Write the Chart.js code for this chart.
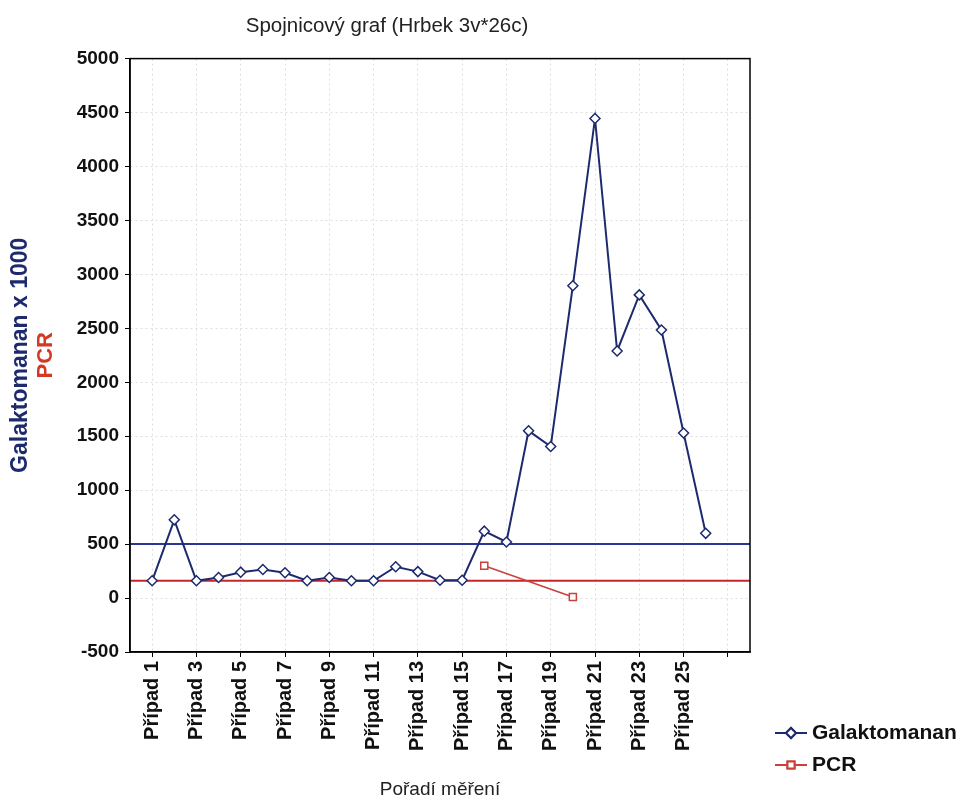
<!DOCTYPE html>
<html>
<head>
<meta charset="utf-8">
<script src="https://cdn.jsdelivr.net/npm/chart.js@4"></script>
<style>
  html, body { margin: 0; background: #fff; }
  #wrap { width: 969px; height: 805px; }
</style>
</head>
<body>
<div id="wrap"><canvas id="myChart"></canvas></div>
<script>
// values
const chartTitle = "Spojnicový graf (Hrbek 3v*26c)";
const xTitle = "Pořadí měření";
const cases = [
    "Případ 1", "Případ 2", "Případ 3", "Případ 4", "Případ 5", "Případ 6", "Případ 7",
    "Případ 8", "Případ 9", "Případ 10", "Případ 11", "Případ 12", "Případ 13", "Případ 14",
    "Případ 15", "Případ 16", "Případ 17", "Případ 18", "Případ 19", "Případ 20", "Případ 21",
    "Případ 22", "Případ 23", "Případ 24", "Případ 25", "Případ 26",
];
const galaktomanan = [
    160, 725, 160, 190, 240, 265, 235, 160, 190, 160, 160, 290, 245,
    165, 165, 620, 520, 1550, 1405, 2895, 4445, 2290, 2810, 2485, 1530, 600,
];
const pcr = [
    null, null, null, null, null, null, null, null, null, null, null, null, null,
    null, null, 300, null, null, null, 10, null, null, null, null, null, null,
];
const galaktomananLimit = 500;
const pcrLimit = 160;
const yMin = -500;
const yMax = 5000;
const yStep = 500;

const navy = "#1d2a6e";
const red = "#c8413a";
const font = "'Liberation Sans', Arial, sans-serif";

// Statistica leaves one empty slot before case 1 and two after the last one
const labels = ["", ...cases, "", ""];
const pad = (arr) => [null, ...arr, null, null];

const frame = {
    id: "frame",
    afterDraw(chart) {
        const { ctx, chartArea: a } = chart;
        ctx.save();
        ctx.strokeStyle = "#000";
        ctx.lineWidth = 1.5;
        ctx.strokeRect(a.left, a.top, a.right - a.left, a.bottom - a.top);
        ctx.restore();
    },
};

const limitLines = {
    id: "limitLines",
    beforeDatasetsDraw(chart) {
        const { ctx, chartArea: a, scales } = chart;
        ctx.save();
        ctx.lineWidth = 2;
        for (const [v, c] of [[galaktomananLimit, "#2b3790"], [pcrLimit, "#c4262a"]]) {
            const y = scales.y.getPixelForValue(v);
            ctx.strokeStyle = c;
            ctx.beginPath();
            ctx.moveTo(a.left, y);
            ctx.lineTo(a.right, y);
            ctx.stroke();
        }
        ctx.restore();
    },
};

const yTitles = {
    id: "yTitles",
    afterDraw(chart) {
        const { ctx, chartArea: a } = chart;
        const cy = (a.top + a.bottom) / 2;
        ctx.save();
        ctx.textAlign = "center";
        ctx.textBaseline = "middle";
        ctx.font = `bold 23px ${font}`;
        ctx.translate(21, cy);
        ctx.rotate(-Math.PI / 2);
        ctx.fillStyle = navy;
        ctx.fillText("Galaktomanan x 1000", 0, 0);
        ctx.font = `bold 22px ${font}`;
        ctx.fillStyle = "#d23a26";
        ctx.fillText("PCR", 0, 25);
        ctx.restore();
    },
};

const sideLegend = {
    id: "sideLegend",
    afterDraw(chart) {
        const { ctx } = chart;
        const items = [
            { text: "Galaktomanan", color: navy, style: "rectRot", y: 733 },
            { text: "PCR", color: red, style: "rect", y: 765 },
        ];
        ctx.save();
        for (const it of items) {
            ctx.strokeStyle = it.color;
            ctx.lineWidth = 2;
            ctx.beginPath();
            ctx.moveTo(775, it.y);
            ctx.lineTo(807, it.y);
            ctx.stroke();
            ctx.fillStyle = "#fff";
            Chart.helpers.drawPoint(ctx, { pointStyle: it.style, radius: 5, borderWidth: 1.5 }, 791, it.y);
            ctx.fill();
            ctx.stroke();
            ctx.fillStyle = "#111";
            ctx.font = `bold 21px ${font}`;
            ctx.textBaseline = "middle";
            ctx.fillText(it.text, 812, it.y);
        }
        ctx.restore();
    },
};

new Chart("myChart", {
    type: "line",
    data: {
        labels: labels,
        datasets: [
            {
                label: "Galaktomanan",
                data: pad(galaktomanan),
                borderColor: navy,
                backgroundColor: "#fff",
                borderWidth: 2,
                pointStyle: "rectRot",
                pointRadius: 5,
                pointBorderWidth: 1.5,
                pointBorderColor: navy,
                pointBackgroundColor: "#fff",
                lineTension: 0,
            },
            {
                label: "PCR",
                data: pad(pcr),
                spanGaps: true,
                borderColor: red,
                backgroundColor: "#fff",
                borderWidth: 1.5,
                pointStyle: "rect",
                pointRadius: 5,
                pointBorderWidth: 1.5,
                pointBorderColor: red,
                pointBackgroundColor: "#fff",
                lineTension: 0,
            },
        ],
    },
    options: {
        responsive: true,
        maintainAspectRatio: false,
        animation: false,
        layout: { padding: { left: 24, right: 219, top: 0, bottom: 4 } },
        plugins: {
            legend: { display: false },
            tooltip: { enabled: false },
            title: {
                display: true,
                text: chartTitle,
                color: "#222",
                font: { family: font, size: 20.5, weight: "normal" },
                padding: { top: 14, bottom: 20 },
            },
        },
        scales: {
            x: {
                afterFit(s) { s.height = 149; },
                ticks: {
                    autoSkip: false,
                    minRotation: 90,
                    maxRotation: 90,
                    color: "#111",
                    padding: 4,
                    font: { family: font, size: 20, weight: "bold" },
                    callback: (v, i) => (i % 2 === 1 ? labels[i] : ""),
                },
                grid: {
                    color: (c) => (c.index % 2 === 1 ? "#dedede" : "rgba(0,0,0,0)"),
                    tickColor: (c) => (c.index % 2 === 1 ? "#000" : "rgba(0,0,0,0)"),
                    tickLength: 5,
                    tickBorderDash: [],
                },
                border: { color: "#000", width: 1.5, dash: [2, 3] },
                title: {
                    display: true,
                    text: xTitle,
                    color: "#222",
                    font: { family: font, size: 19, weight: "normal" },
                    padding: { top: 8, bottom: 0 },
                },
            },
            y: {
                min: yMin,
                max: yMax,
                afterFit(s) { s.width = 106; },
                ticks: {
                    stepSize: yStep,
                    color: "#111",
                    padding: 6,
                    font: { family: font, size: 19, weight: "bold" },
                    callback: (v) => String(v),
                },
                grid: {
                    color: "#dedede",
                    tickColor: "#000",
                    tickLength: 5,
                    tickBorderDash: [],
                },
                border: { color: "#000", width: 1.5, dash: [2, 3] },
            },
        },
    },
    plugins: [limitLines, frame, yTitles, sideLegend],
});
</script>
</body>
</html>
